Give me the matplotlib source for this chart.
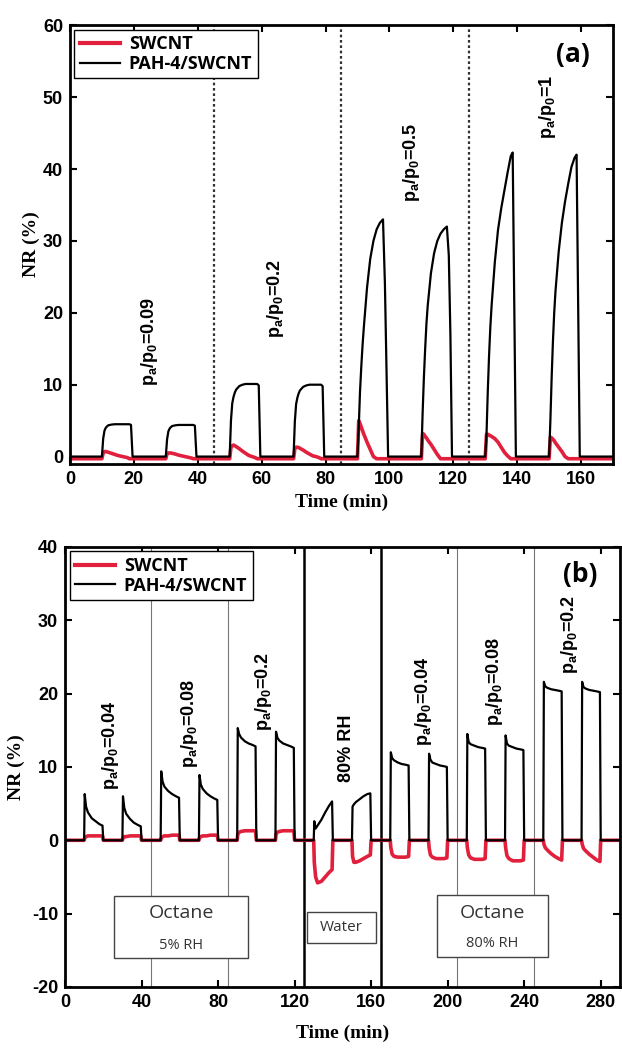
import matplotlib
matplotlib.use('Agg')
import matplotlib.pyplot as plt
from matplotlib.patches import Rectangle
from matplotlib.lines import Line2D

plt.rcParams['axes.unicode_minus'] = False
plt.rcParams['mathtext.default'] = 'regular'

RED = '#e0203c'

# ---- panel (a): octane exposures, p_a/p_0 = 0.09, 0.2, 0.5, 1 ----
a_on = [10, 30, 50, 70, 90, 110, 130, 150]
a_dt = [0, 0.4, 0.8, 1.2, 1.6, 2, 3, 4, 5, 6, 7, 8, 8.6, 9.1, 9.6]
a_pah = [
    [0, 2.5, 3.6, 4.0, 4.2, 4.35, 4.45, 4.5, 4.5, 4.5, 4.5, 4.5, 4.5, 4.4, 0],
    [0, 2.4, 3.5, 3.9, 4.1, 4.25, 4.35, 4.4, 4.4, 4.4, 4.4, 4.4, 4.4, 4.3, 0],
    [0, 5.0, 7.4, 8.3, 8.9, 9.3, 9.8, 10.0, 10.1, 10.1, 10.1, 10.1, 10.1, 9.9, 0],
    [0, 4.9, 7.3, 8.2, 8.8, 9.2, 9.7, 9.9, 10.0, 10.0, 10.0, 10.0, 10.0, 9.8, 0],
    [0, 4.0, 9.0, 12.5, 15.5, 18.0, 23.5, 27.5, 30.0, 31.6, 32.5, 33.0, 24.0, 12.0, 0],
    [0, 6.0, 11.0, 15.0, 18.5, 21.0, 25.5, 28.3, 30.0, 31.0, 31.6, 32.0, 28.0, 17.0, 0],
    [0, 3.0, 9.0, 14.0, 18.0, 21.0, 27.0, 31.5, 34.5, 37.0, 39.5, 41.8, 42.3, 21.0, 0],
    [0, 5.0, 11.0, 16.0, 20.0, 23.0, 28.5, 32.5, 35.5, 38.0, 40.3, 41.6, 42.0, 21.0, 0],
]
a_swcnt = [
    [-0.3, 0.5, 0.7, 0.7, 0.65, 0.6, 0.45, 0.3, 0.15, 0.05, -0.05, -0.15, -0.3, -0.3, -0.3],
    [-0.3, 0.4, 0.5, 0.5, 0.5, 0.45, 0.35, 0.2, 0.1, 0.0, -0.1, -0.2, -0.3, -0.3, -0.3],
    [-0.3, 1.3, 1.5, 1.6, 1.5, 1.4, 1.1, 0.75, 0.45, 0.15, 0.0, -0.15, -0.3, -0.3, -0.3],
    [-0.3, 1.1, 1.3, 1.3, 1.25, 1.15, 0.9, 0.6, 0.35, 0.1, 0.0, -0.15, -0.3, -0.3, -0.3],
    [-0.3, 5.0, 4.6, 4.1, 3.6, 3.1, 2.0, 1.0, 0.0, -0.3, -0.3, -0.3, -0.3, -0.3, -0.3],
    [-0.3, 3.2, 3.1, 2.8, 2.6, 2.3, 1.7, 1.0, 0.3, -0.3, -0.3, -0.3, -0.3, -0.3, -0.3],
    [-0.3, 3.1, 3.1, 3.0, 2.9, 2.8, 2.5, 2.0, 1.3, 0.6, 0.1, -0.3, -0.3, -0.3, -0.3],
    [-0.3, 2.7, 2.6, 2.4, 2.2, 1.9, 1.3, 0.7, 0.0, -0.3, -0.3, -0.3, -0.3, -0.3, -0.3],
]
a_dividers = [45, 85, 125]
a_labels = ['0.09', '0.2', '0.5', '1']
a_label_pos = [(25, 16), (64.5, 22), (107, 41), (149.5, 48.7)]

# ---- panel (b): octane 5% RH, water 80% RH, octane 80% RH ----
b_on = [10, 30, 50, 70, 90, 110, 130, 150, 170, 190, 210, 230, 250, 270]
b_dt = [0, 0.3, 1, 2, 4, 6, 8, 9.6, 10]
b_pah = [
    [0, 6.3, 4.6, 3.8, 3.0, 2.6, 2.2, 2.0, 0],
    [0, 6.0, 4.4, 3.6, 2.9, 2.4, 2.1, 1.9, 0],
    [0, 9.4, 8.0, 7.3, 6.7, 6.3, 6.0, 5.8, 0],
    [0, 8.9, 7.6, 7.0, 6.4, 6.0, 5.7, 5.5, 0],
    [0, 15.3, 14.5, 14.0, 13.5, 13.2, 13.0, 12.8, 0],
    [0, 14.8, 14.0, 13.6, 13.2, 13.0, 12.8, 12.6, 0],
    [0, 2.6, 1.6, 2.0, 2.8, 3.8, 4.7, 5.3, 0],
    [0, 4.6, 4.9, 5.2, 5.6, 6.0, 6.3, 6.4, 0],
    [0, 12.0, 11.2, 10.9, 10.6, 10.4, 10.3, 10.2, 0],
    [0, 11.8, 11.0, 10.6, 10.4, 10.2, 10.1, 10.0, 0],
    [0, 14.5, 13.4, 13.1, 12.9, 12.7, 12.6, 12.5, 0],
    [0, 14.3, 13.2, 12.9, 12.7, 12.5, 12.4, 12.3, 0],
    [0, 21.6, 21.0, 20.8, 20.6, 20.5, 20.4, 20.3, 0],
    [0, 21.6, 20.9, 20.7, 20.5, 20.4, 20.3, 20.2, 0],
]
b_swcnt = [
    [0, 0.3, 0.5, 0.6, 0.6, 0.6, 0.6, 0.6, 0],
    [0, 0.3, 0.5, 0.5, 0.6, 0.6, 0.6, 0.6, 0],
    [0, 0.3, 0.5, 0.6, 0.6, 0.7, 0.7, 0.7, 0],
    [0, 0.3, 0.5, 0.6, 0.6, 0.7, 0.7, 0.7, 0],
    [0, 0.8, 1.1, 1.2, 1.3, 1.3, 1.3, 1.3, 0],
    [0, 0.8, 1.1, 1.2, 1.3, 1.3, 1.3, 1.3, 0],
    [0, -3.0, -5.0, -5.8, -5.6, -5.0, -4.4, -4.0, 0],
    [0, -2.2, -3.0, -3.0, -2.8, -2.5, -2.2, -2.0, 0],
    [0, -1.0, -1.9, -2.2, -2.3, -2.3, -2.3, -2.2, 0],
    [0, -1.0, -2.0, -2.3, -2.5, -2.5, -2.5, -2.4, 0],
    [0, -1.0, -2.0, -2.4, -2.6, -2.6, -2.6, -2.5, 0],
    [0, -1.0, -2.1, -2.5, -2.8, -2.8, -2.8, -2.7, 0],
    [0, -0.5, -1.0, -1.3, -1.8, -2.2, -2.5, -2.7, 0],
    [0, -0.5, -1.1, -1.4, -1.9, -2.3, -2.7, -2.9, 0],
]
b_thin = [45, 85, 205, 245]
b_thick = [125, 165]
b_labels = ['0.04', '0.08', '0.2', '0.04', '0.08', '0.2']
b_label_pos = [(23.7, 13), (64.9, 16), (104, 20.3), (187.4, 19), (224.4, 21.7), (263.5, 28)]


def trace(on_times, offsets, pulses, t_end, base):
    t, y = [0], [base]
    for t0, vals in zip(on_times, pulses):
        t += [t0 + d for d in offsets]
        y += list(vals)
    t.append(t_end)
    y.append(base)
    return t, y


def style(ax, xpad, ypad):
    for s in ax.spines.values():
        s.set_linewidth(2)
    ax.tick_params(direction='in', top=True, right=True, length=5, width=1.5,
                   labelsize=13, pad=5)
    for lab in ax.get_xticklabels() + ax.get_yticklabels():
        lab.set_fontfamily('Liberation Sans')
        lab.set_fontweight('bold')
    ax.set_xlabel('Time (min)', family='Liberation Serif', fontweight='bold', fontsize=14, labelpad=xpad)
    ax.set_ylabel('NR (%)', family='Liberation Serif', fontweight='bold', fontsize=14, labelpad=ypad)
    handles = [Line2D([], [], color=RED, lw=3), Line2D([], [], color='black', lw=1.6)]
    leg = ax.legend(handles, ['SWCNT', 'PAH-4/SWCNT'], loc='upper left',
                    prop={'family': 'Open Sans', 'weight': 'bold', 'size': 13},
                    fancybox=False, edgecolor='black', framealpha=1,
                    borderaxespad=0.25, handlelength=2.2, labelspacing=0.1,
                    borderpad=0.3, handletextpad=0.5)
    leg.get_frame().set_linewidth(1.0)


def ratio(v):
    return 'p$_{a}$/p$_{0}$=' + v


fig = plt.figure(figsize=(6.22, 10.54), dpi=100)
ax1 = fig.add_axes([0.1125, 0.560, 0.873, 0.416])
ax2 = fig.add_axes([0.1045, 0.0636, 0.892, 0.4175])

# panel (a)
for x in a_dividers:
    ax1.axvline(x, color='#333333', ls=(0, (1.2, 1.2)), lw=1.6, zorder=1)
t, y = trace(a_on, a_dt, a_swcnt, 170, -0.3)
ax1.plot(t, y, color=RED, lw=2.6, zorder=2)
t, y = trace(a_on, a_dt, a_pah, 170, 0)
ax1.plot(t, y, color='black', lw=1.6, zorder=3)
for v, (x, yy) in zip(a_labels, a_label_pos):
    ax1.text(x, yy, ratio(v), rotation=90, ha='center', va='center', fontsize=13,
             family='Liberation Sans', fontweight='bold')
ax1.text(157.5, 56, '(a)', family='Open Sans', fontweight='bold', fontsize=19,
         ha='center', va='center')
ax1.set_xlim(0, 170)
ax1.set_ylim(-1, 60)
ax1.set_xticks(range(0, 161, 20))
ax1.set_yticks(range(0, 61, 10))
style(ax1, 4, 2)

# panel (b)
for x in b_thin:
    ax2.axvline(x, color='#777777', lw=0.8, zorder=1)
for x in b_thick:
    ax2.axvline(x, color='black', lw=1.8, zorder=1)
t, y = trace(b_on, b_dt, b_swcnt, 290, 0)
ax2.plot(t, y, color=RED, lw=2.6, zorder=2)
t, y = trace(b_on, b_dt, b_pah, 290, 0)
ax2.plot(t, y, color='black', lw=1.6, zorder=3)
for v, (x, yy) in zip(b_labels, b_label_pos):
    ax2.text(x, yy, ratio(v), rotation=90, ha='center', va='center', fontsize=13,
             family='Liberation Sans', fontweight='bold')
ax2.text(147, 12.6, '80% RH', rotation=90, ha='center', va='center', fontsize=13,
         family='Liberation Sans', fontweight='bold')
ax2.text(269.5, 36.3, '(b)', family='Open Sans', fontweight='bold', fontsize=19,
         ha='center', va='center')

boxes = [(25.7, -16.0, 70.0, 8.4), (126.6, -14.0, 36.1, 4.2), (194.2, -15.9, 58.1, 8.5)]
for (x0, y0, w, h) in boxes:
    ax2.add_patch(Rectangle((x0, y0), w, h, facecolor='white', edgecolor='#444444',
                            lw=1.0, zorder=4))
ax2.text(60.7, -9.9, 'Octane', family='Open Sans', fontsize=14, color='#333333',
         ha='center', va='center', zorder=5)
ax2.text(60.7, -14.3, '5% RH', family='Open Sans', fontsize=10.5, color='#333333',
         ha='center', va='center', zorder=5)
ax2.text(144.6, -11.9, 'Water', family='Open Sans', fontsize=11, color='#333333',
         ha='center', va='center', zorder=5)
ax2.text(223.2, -9.9, 'Octane', family='Open Sans', fontsize=14, color='#333333',
         ha='center', va='center', zorder=5)
ax2.text(223.2, -14.1, '80% RH', family='Open Sans', fontsize=10.5, color='#333333',
         ha='center', va='center', zorder=5)
ax2.set_xlim(0, 290)
ax2.set_ylim(-20, 40)
ax2.set_xticks(range(0, 281, 40))
ax2.set_yticks(range(-20, 41, 10))
style(ax2, 10, 5)

fig.savefig('out.png', dpi=100)
